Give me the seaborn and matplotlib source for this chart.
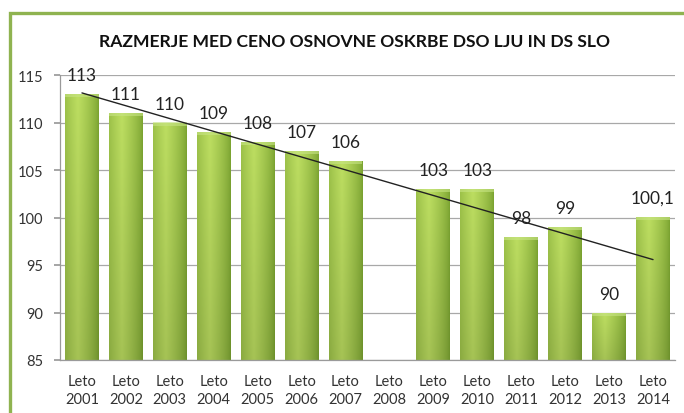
import numpy as np
import pandas as pd
import matplotlib
matplotlib.use("Agg")
import matplotlib.pyplot as plt
from matplotlib.patches import Rectangle
import seaborn as sns

# ---- data ----
years = ["2001", "2002", "2003", "2004", "2005", "2006", "2007",
         "2008", "2009", "2010", "2011", "2012", "2013", "2014"]
values = [113, 111, 110, 109, 108, 107, 106,
          np.nan, 103, 103, 98, 99, 90, 100.1]
y_ticks = [85, 90, 95, 100, 105, 110, 115]
title = "RAZMERJE MED CENO OSNOVNE OSKRBE DSO LJU IN DS SLO"

categories = ["Leto\n" + y for y in years]
df = pd.DataFrame({"cat": categories, "val": values})
present = df.dropna()

sns.set_theme(style="white")
plt.rcParams["font.family"] = ["Lato", "DejaVu Sans"]

fig = plt.figure(figsize=(6.84, 4.14), dpi=100)
ax = fig.add_axes([60 / 684, 1 - 361 / 414, (675 - 60) / 684, (361 - 76) / 414])

sns.barplot(data=present, x="cat", y="val", order=categories,
            color="#92c13e", width=0.77, ax=ax, zorder=2)

ax.set_ylim(85, 115)
ax.set_yticks(y_ticks)
ax.set_xlim(-0.5, len(categories) - 0.5)
ax.set_xlabel("")
ax.set_ylabel("")
ax.yaxis.grid(True, color="#a8a8a8", linewidth=0.9, zorder=0)
ax.set_axisbelow(True)
for s in ["top", "right"]:
    ax.spines[s].set_visible(False)
for s in ["left", "bottom"]:
    ax.spines[s].set_color("#9a9a9a")
    ax.spines[s].set_linewidth(0.9)
ax.tick_params(axis="y", length=4, color="#9a9a9a", pad=8, labelsize=10.5,
               labelcolor="#333333", left=True)
ax.tick_params(axis="x", length=0, pad=10, labelsize=10.5, labelcolor="#333333")
for lab in ax.get_xticklabels():
    lab.set_linespacing(1.35)

# gradient fill of bars
light = np.array([0.74, 0.87, 0.38])
dark = np.array([0.48, 0.64, 0.19])
xs = np.linspace(0, 1, 60)
tx = np.clip(1 - np.abs(xs - 0.38) / 0.62, 0, 1) ** 0.7
ys = np.linspace(0, 1, 60)[:, None]
vert = 0.88 + 0.12 * ys
grad = (dark[None, None, :] + (light - dark)[None, None, :] * tx[None, :, None])
grad = np.clip(grad * vert[:, :, None], 0, 1)
for p in list(ax.patches):
    h = p.get_height()
    if not np.isfinite(h) or h <= 0:
        continue
    x0 = p.get_x()
    w = p.get_width()
    p.set_facecolor("none")
    p.set_edgecolor("none")
    im = ax.imshow(grad, extent=(x0, x0 + w, 85, h), origin="lower",
                   aspect="auto", zorder=2, interpolation="bilinear")
    im.set_clip_path(p)
    # subtle top bevel
    ax.add_patch(Rectangle((x0, h - 0.35), w, 0.35, facecolor="#c8e585",
                           edgecolor="none", alpha=0.6, zorder=3))
ax.set_xlim(-0.5, len(categories) - 0.5)
ax.set_ylim(85, 115)

# value labels
for i, v in enumerate(values):
    if np.isfinite(v):
        txt = f"{v:g}".replace(".", ",")
        ax.annotate(txt, (i, v), xytext=(0, 13.5), textcoords="offset points",
                    ha="center", va="center", fontsize=12.5, color="#222222",
                    zorder=6, annotation_clip=False)

# linear trend line (fitted to data)
xi = np.array([i for i, v in enumerate(values) if np.isfinite(v)], dtype=float)
yi = np.array([v for v in values if np.isfinite(v)], dtype=float)
k, b = np.polyfit(xi, yi, 1)
xt = np.array([xi.min(), xi.max()])
ax.plot(xt, k * xt + b, color="#222222", linewidth=1.0, zorder=5)

# title
fig.text(354 / 684, 1 - 42 / 414, title, ha="center", va="center",
         fontsize=12.6, fontweight="bold", color="#111111")

# green frame
fig.patches.append(Rectangle((9.5 / 684, -0.1), 1.2, 1 - 13.5 / 414 + 0.1,
                             transform=fig.transFigure, fill=False,
                             edgecolor="#8fb350", linewidth=2.4, zorder=10))

fig.savefig("out.png", dpi=100)
